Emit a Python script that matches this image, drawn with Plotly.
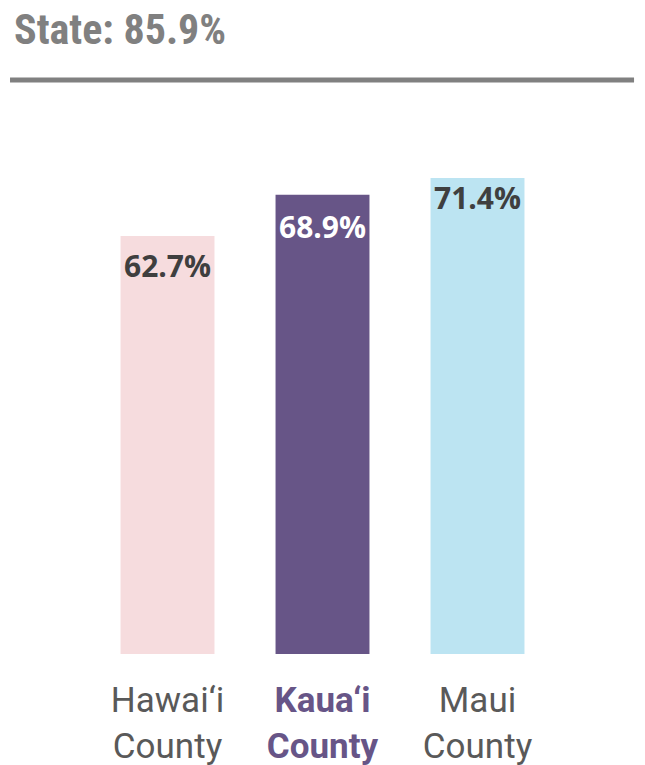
import plotly.graph_objects as go

counties = ["Hawai‘i<br>County", "Kaua‘i<br>County", "Maui<br>County"]
values = [62.7, 68.9, 71.4]
state_value = 85.9
highlight = "Kaua‘i<br>County"

BAR_COLORS = ["#F6DCDE", "#675587", "#BCE4F2"]
LABEL_COLORS = ["#3F3F3F", "#FFFFFF", "#3F3F3F"]
LABEL_SHIFT = [-7, -9, 3]
GRAY = "#808080"
PURPLE = "#675587"

W, H = 637, 757  # page body has an 8px margin

ticktext = [
    f"<b><span style='color:{PURPLE}'>{c}</span></b>" if c == highlight else c
    for c in counties
]

fig = go.Figure(
    go.Bar(
        x=counties,
        y=values,
        marker=dict(color=BAR_COLORS, line_width=0),
        hoverinfo="x+y",
    )
)

# value labels inside the top of each bar
for c, v, col, dy in zip(counties, values, LABEL_COLORS, LABEL_SHIFT):
    fig.add_annotation(
        x=c, y=v, text=f"<b>{v:.1f}%</b>",
        showarrow=False, yanchor="top", yshift=dy,
        font=dict(family="Open Sans, Noto Sans, sans-serif", size=30, color=col),
    )

# rule under the title
fig.add_shape(
    type="line", xref="paper", yref="paper",
    x0=-0.172, x1=1.170, y0=1.148, y1=1.148,
    line=dict(color=GRAY, width=5),
)

fig.update_layout(
    width=W,
    height=H,
    plot_bgcolor="white",
    paper_bgcolor="white",
    margin=dict(l=82, r=90, t=146, b=111, autoexpand=False),
    bargap=0.394,
    showlegend=False,
    title=dict(
        text=f"<b>State: {state_value}%</b>",
        x=6 / W, xanchor="left", xref="container",
        y=1 - 21 / H, yanchor="middle", yref="container",
        automargin=False,
        font=dict(family="Roboto Condensed, Liberation Sans Narrow, sans-serif", size=42, color=GRAY),
    ),
    xaxis=dict(
        tickvals=counties,
        ticktext=ticktext,
        tickfont=dict(family="Roboto, sans-serif", size=35, color="#595959"),
        showline=False, showgrid=False, ticks="",
        ticklabelstandoff=22,
        automargin=False,
    ),
    yaxis=dict(
        range=[0, 75], visible=False, showgrid=False, zeroline=False,
        automargin=False,
    ),
)

fig.write_html("out.html")
